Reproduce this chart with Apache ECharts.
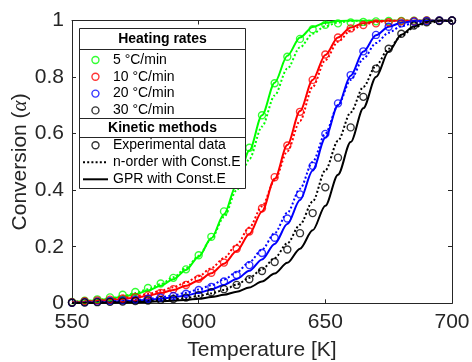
<!DOCTYPE html>
<html><head><meta charset="utf-8">
<script src="https://cdn.jsdelivr.net/npm/echarts@6/dist/echarts.min.js"></script>
<style>html,body{margin:0;padding:0;background:#fff}#c{width:472px;height:362px}</style>
</head><body><div id="c"></div>
<script>
// Temperature grid [K]
const temps = [550,555,560,565,570,575,580,585,590,595,600,605,610,615,620,625,630,635,640,645,650,655,660,665,670,675,680,685,690,695,700];
const rateNames = ['5 °C/min','10 °C/min','20 °C/min','30 °C/min'];
const rateColors = ['#00ff00','#ff0000','#0000ff','#000000'];
const methodNames = ['Experimental data','n-order with Const.E','GPR with Const.E'];
const xTicks = [550,600,650,700];
const yTicks = [0,0.2,0.4,0.6,0.8,1];

// Experimental data
const exp5  = [0.005,0.009,0.014,0.021,0.03,0.04,0.054,0.07,0.09,0.12,0.17,0.235,0.325,0.44,0.55,0.665,0.778,0.872,0.935,0.969,0.985,0.99,0.993,0.995,0.997,0.998,0.998,0.999,1,1,1];
const exp10 = [0.004,0.007,0.01,0.013,0.017,0.022,0.028,0.037,0.05,0.065,0.087,0.108,0.144,0.193,0.254,0.336,0.446,0.558,0.677,0.79,0.88,0.94,0.972,0.984,0.99,0.994,0.997,0.998,1,1,1];
const exp20 = [0.002,0.004,0.006,0.008,0.01,0.013,0.016,0.02,0.026,0.034,0.047,0.058,0.077,0.1,0.135,0.178,0.232,0.3,0.385,0.486,0.599,0.707,0.807,0.891,0.949,0.978,0.99,0.996,0.998,1,1];
const exp30 = [0.002,0.003,0.004,0.005,0.006,0.008,0.01,0.012,0.015,0.02,0.029,0.039,0.05,0.065,0.085,0.114,0.146,0.19,0.248,0.319,0.41,0.515,0.622,0.73,0.83,0.9,0.953,0.982,0.994,0.998,1];
// n-order with Const.E
const nord5  = [0.004,0.008,0.012,0.018,0.026,0.036,0.05,0.068,0.092,0.124,0.168,0.228,0.305,0.4,0.51,0.625,0.735,0.83,0.905,0.953,0.98,0.993,0.998,1,1,1,1,1,1,1,1];
const nord10 = [0.004,0.007,0.01,0.014,0.019,0.025,0.033,0.044,0.057,0.074,0.096,0.124,0.16,0.207,0.268,0.343,0.435,0.537,0.645,0.765,0.86,0.925,0.965,0.985,0.995,0.998,1,1,1,1,1];
const nord20 = [0.002,0.003,0.005,0.007,0.009,0.012,0.016,0.021,0.028,0.037,0.049,0.064,0.084,0.11,0.145,0.19,0.248,0.32,0.405,0.5,0.6,0.7,0.79,0.865,0.92,0.957,0.98,0.992,0.998,1,1];
const nord30 = [0.001,0.002,0.003,0.004,0.005,0.006,0.008,0.011,0.014,0.019,0.026,0.035,0.047,0.066,0.09,0.12,0.16,0.212,0.278,0.36,0.47,0.575,0.675,0.765,0.84,0.9,0.945,0.975,0.99,0.997,1];
// GPR with Const.E
const gpr5  = [0.004,0.007,0.011,0.016,0.023,0.032,0.045,0.062,0.085,0.118,0.165,0.23,0.315,0.42,0.54,0.665,0.78,0.875,0.94,0.977,0.992,0.998,1,1,1,1,1,1,1,1,1];
const gpr10 = [0.003,0.005,0.008,0.011,0.015,0.02,0.027,0.036,0.047,0.062,0.081,0.106,0.14,0.185,0.245,0.325,0.44,0.56,0.68,0.79,0.878,0.94,0.975,0.99,0.997,1,1,1,1,1,1];
const gpr20 = [0.001,0.002,0.003,0.005,0.007,0.009,0.012,0.016,0.021,0.028,0.037,0.049,0.065,0.086,0.115,0.155,0.21,0.28,0.365,0.47,0.585,0.7,0.805,0.89,0.948,0.978,0.992,0.998,1,1,1];
const gpr30 = [0.001,0.001,0.002,0.002,0.003,0.004,0.005,0.007,0.009,0.012,0.016,0.022,0.03,0.041,0.056,0.077,0.105,0.143,0.193,0.258,0.345,0.455,0.57,0.69,0.8,0.89,0.95,0.98,0.995,1,1];

const expAll = [exp5, exp10, exp20, exp30];
const nordAll = [nord5, nord10, nord20, nord30];
const gprAll = [gpr5, gpr10, gpr20, gpr30];

const FONT = '"Liberation Sans", Arial, Helvetica, sans-serif';
const AX = '#262626';
const pairs = arr => temps.map((t, i) => [t, arr[i]]);
const DOT = [2, 2.2];
const MS = 7;

const series = [];
rateNames.forEach((nm, k) => {
  const c = rateColors[k];
  series.push({ type: 'scatter', name: nm, data: pairs(expAll[k]), symbol: 'circle', symbolSize: MS, z: 3,
    itemStyle: { color: 'rgba(0,0,0,0)', borderColor: c, borderWidth: 1.4 }, emphasis: { disabled: true } });
  series.push({ type: 'line', name: nm, data: pairs(nordAll[k]), symbol: 'none', showSymbol: false, smooth: 0.3, smoothMonotone: 'x',
    lineStyle: { color: c, width: 2, type: DOT }, itemStyle: { color: c }, emphasis: { disabled: true } });
  series.push({ type: 'line', name: nm, data: pairs(gprAll[k]), symbol: 'none', showSymbol: false, smooth: 0.3, smoothMonotone: 'x',
    lineStyle: { color: c, width: 2, type: 'solid' }, itemStyle: { color: c }, emphasis: { disabled: true } });
});
// legend-only entries for kinetic methods
series.push({ type: 'scatter', name: methodNames[0], data: [], symbol: 'circle', symbolSize: MS,
  itemStyle: { color: 'rgba(0,0,0,0)', borderColor: '#000', borderWidth: 1.4 } });
series.push({ type: 'line', name: methodNames[1], data: [], symbol: 'none', lineStyle: { color: '#000', width: 2, type: DOT }, itemStyle: { color: '#000' } });
series.push({ type: 'line', name: methodNames[2], data: [], symbol: 'none', lineStyle: { color: '#000', width: 2, type: 'solid' }, itemStyle: { color: '#000' } });

const legendText = { fontSize: 14, color: '#000', fontFamily: FONT };
const baseAxisX = {
  type: 'value', min: xTicks[0], max: xTicks[xTicks.length - 1], interval: 50,
  axisLine: { show: true, onZero: false, lineStyle: { color: AX, width: 1 } },
  axisTick: { show: true, inside: true, length: 4, lineStyle: { color: AX, width: 1 } },
  splitLine: { show: false }
};
const baseAxisY = {
  type: 'value', min: yTicks[0], max: yTicks[yTicks.length - 1], interval: 0.2,
  axisLine: { show: true, onZero: false, lineStyle: { color: AX, width: 1 } },
  axisTick: { show: true, inside: true, length: 4, lineStyle: { color: AX, width: 1 } },
  splitLine: { show: false }
};

const option = {
  animation: false,
  backgroundColor: '#fff',
  textStyle: { fontFamily: FONT },
  grid: { left: 72, right: 20, top: 20.5, bottom: 58.7, containLabel: false, outerBoundsMode: 'none' },
  xAxis: [
    Object.assign({}, baseAxisX, { position: 'bottom',
      axisLabel: { fontSize: 21, color: AX, margin: 8, fontFamily: FONT },
      name: 'Temperature [K]', nameLocation: 'middle', nameGap: 36, nameMoveOverlap: false,
      nameTextStyle: { fontSize: 21, color: AX, fontFamily: FONT } }),
    Object.assign({}, baseAxisX, { position: 'top', axisLabel: { show: false } })
  ],
  yAxis: [
    Object.assign({}, baseAxisY, { position: 'left',
      axisLabel: { fontSize: 21, color: AX, margin: 8, fontFamily: FONT },
      name: 'Conversion ({a|α})', nameLocation: 'middle', nameGap: 41, nameMoveOverlap: false,
      nameTextStyle: { fontSize: 21, color: AX, fontFamily: FONT,
        rich: { a: { fontSize: 21, color: AX, fontStyle: 'italic', fontFamily: '"Liberation Serif", "DejaVu Serif", serif' } } } }),
    Object.assign({}, baseAxisY, { position: 'right', axisLabel: { show: false } })
  ],
  legend: [
    { z: 20, orient: 'vertical', left: 91.5 - MS / 2 + 3.25, top: 53, padding: 0, itemGap: 2.8, itemWidth: 25, itemHeight: MS,
      selectedMode: false, textStyle: legendText,
      data: rateNames.map((n, k) => ({ name: n, icon: 'circle',
        itemStyle: { color: 'rgba(0,0,0,0)', borderColor: rateColors[k], borderWidth: 1.4 } })) },
    { z: 20, orient: 'vertical', left: 82, top: 138.3, padding: 0, itemGap: 3, itemWidth: 25, itemHeight: MS,
      selectedMode: false, textStyle: legendText,
      data: [
        { name: methodNames[0], icon: 'circle', itemStyle: { color: 'rgba(0,0,0,0)', borderColor: '#000', borderWidth: 1.4 } },
        { name: methodNames[1], itemStyle: { opacity: 0 }, lineStyle: { width: 2, type: DOT, color: '#000' } },
        { name: methodNames[2], itemStyle: { opacity: 0 }, lineStyle: { width: 2, type: 'solid', color: '#000' } }
      ] }
  ],
  graphic: [
    { type: 'rect', z: 10, shape: { x: 79.5, y: 28.5, width: 166, height: 160 }, style: { fill: '#fff', stroke: AX, lineWidth: 1 } },
    { type: 'line', z: 11, shape: { x1: 79.5, y1: 49.5, x2: 245.5, y2: 49.5 }, style: { stroke: AX, lineWidth: 1 } },
    { type: 'line', z: 11, shape: { x1: 79.5, y1: 118.5, x2: 245.5, y2: 118.5 }, style: { stroke: AX, lineWidth: 1 } },
    { type: 'line', z: 11, shape: { x1: 79.5, y1: 137.5, x2: 245.5, y2: 137.5 }, style: { stroke: AX, lineWidth: 1 } },
    { type: 'text', z: 11, x: 162.5, y: 39.5, style: { text: 'Heating rates', fontSize: 14, fontWeight: 'bold', fontFamily: FONT, fill: '#000', align: 'center', verticalAlign: 'middle' } },
    { type: 'text', z: 11, x: 162.5, y: 128, style: { text: 'Kinetic methods', fontSize: 14, fontWeight: 'bold', fontFamily: FONT, fill: '#000', align: 'center', verticalAlign: 'middle' } }
  ],
  series: series
};

const chart = echarts.init(document.getElementById('c'), null, { renderer: 'canvas', width: 472, height: 362 });
chart.setOption(option);
</script>
</body></html>
